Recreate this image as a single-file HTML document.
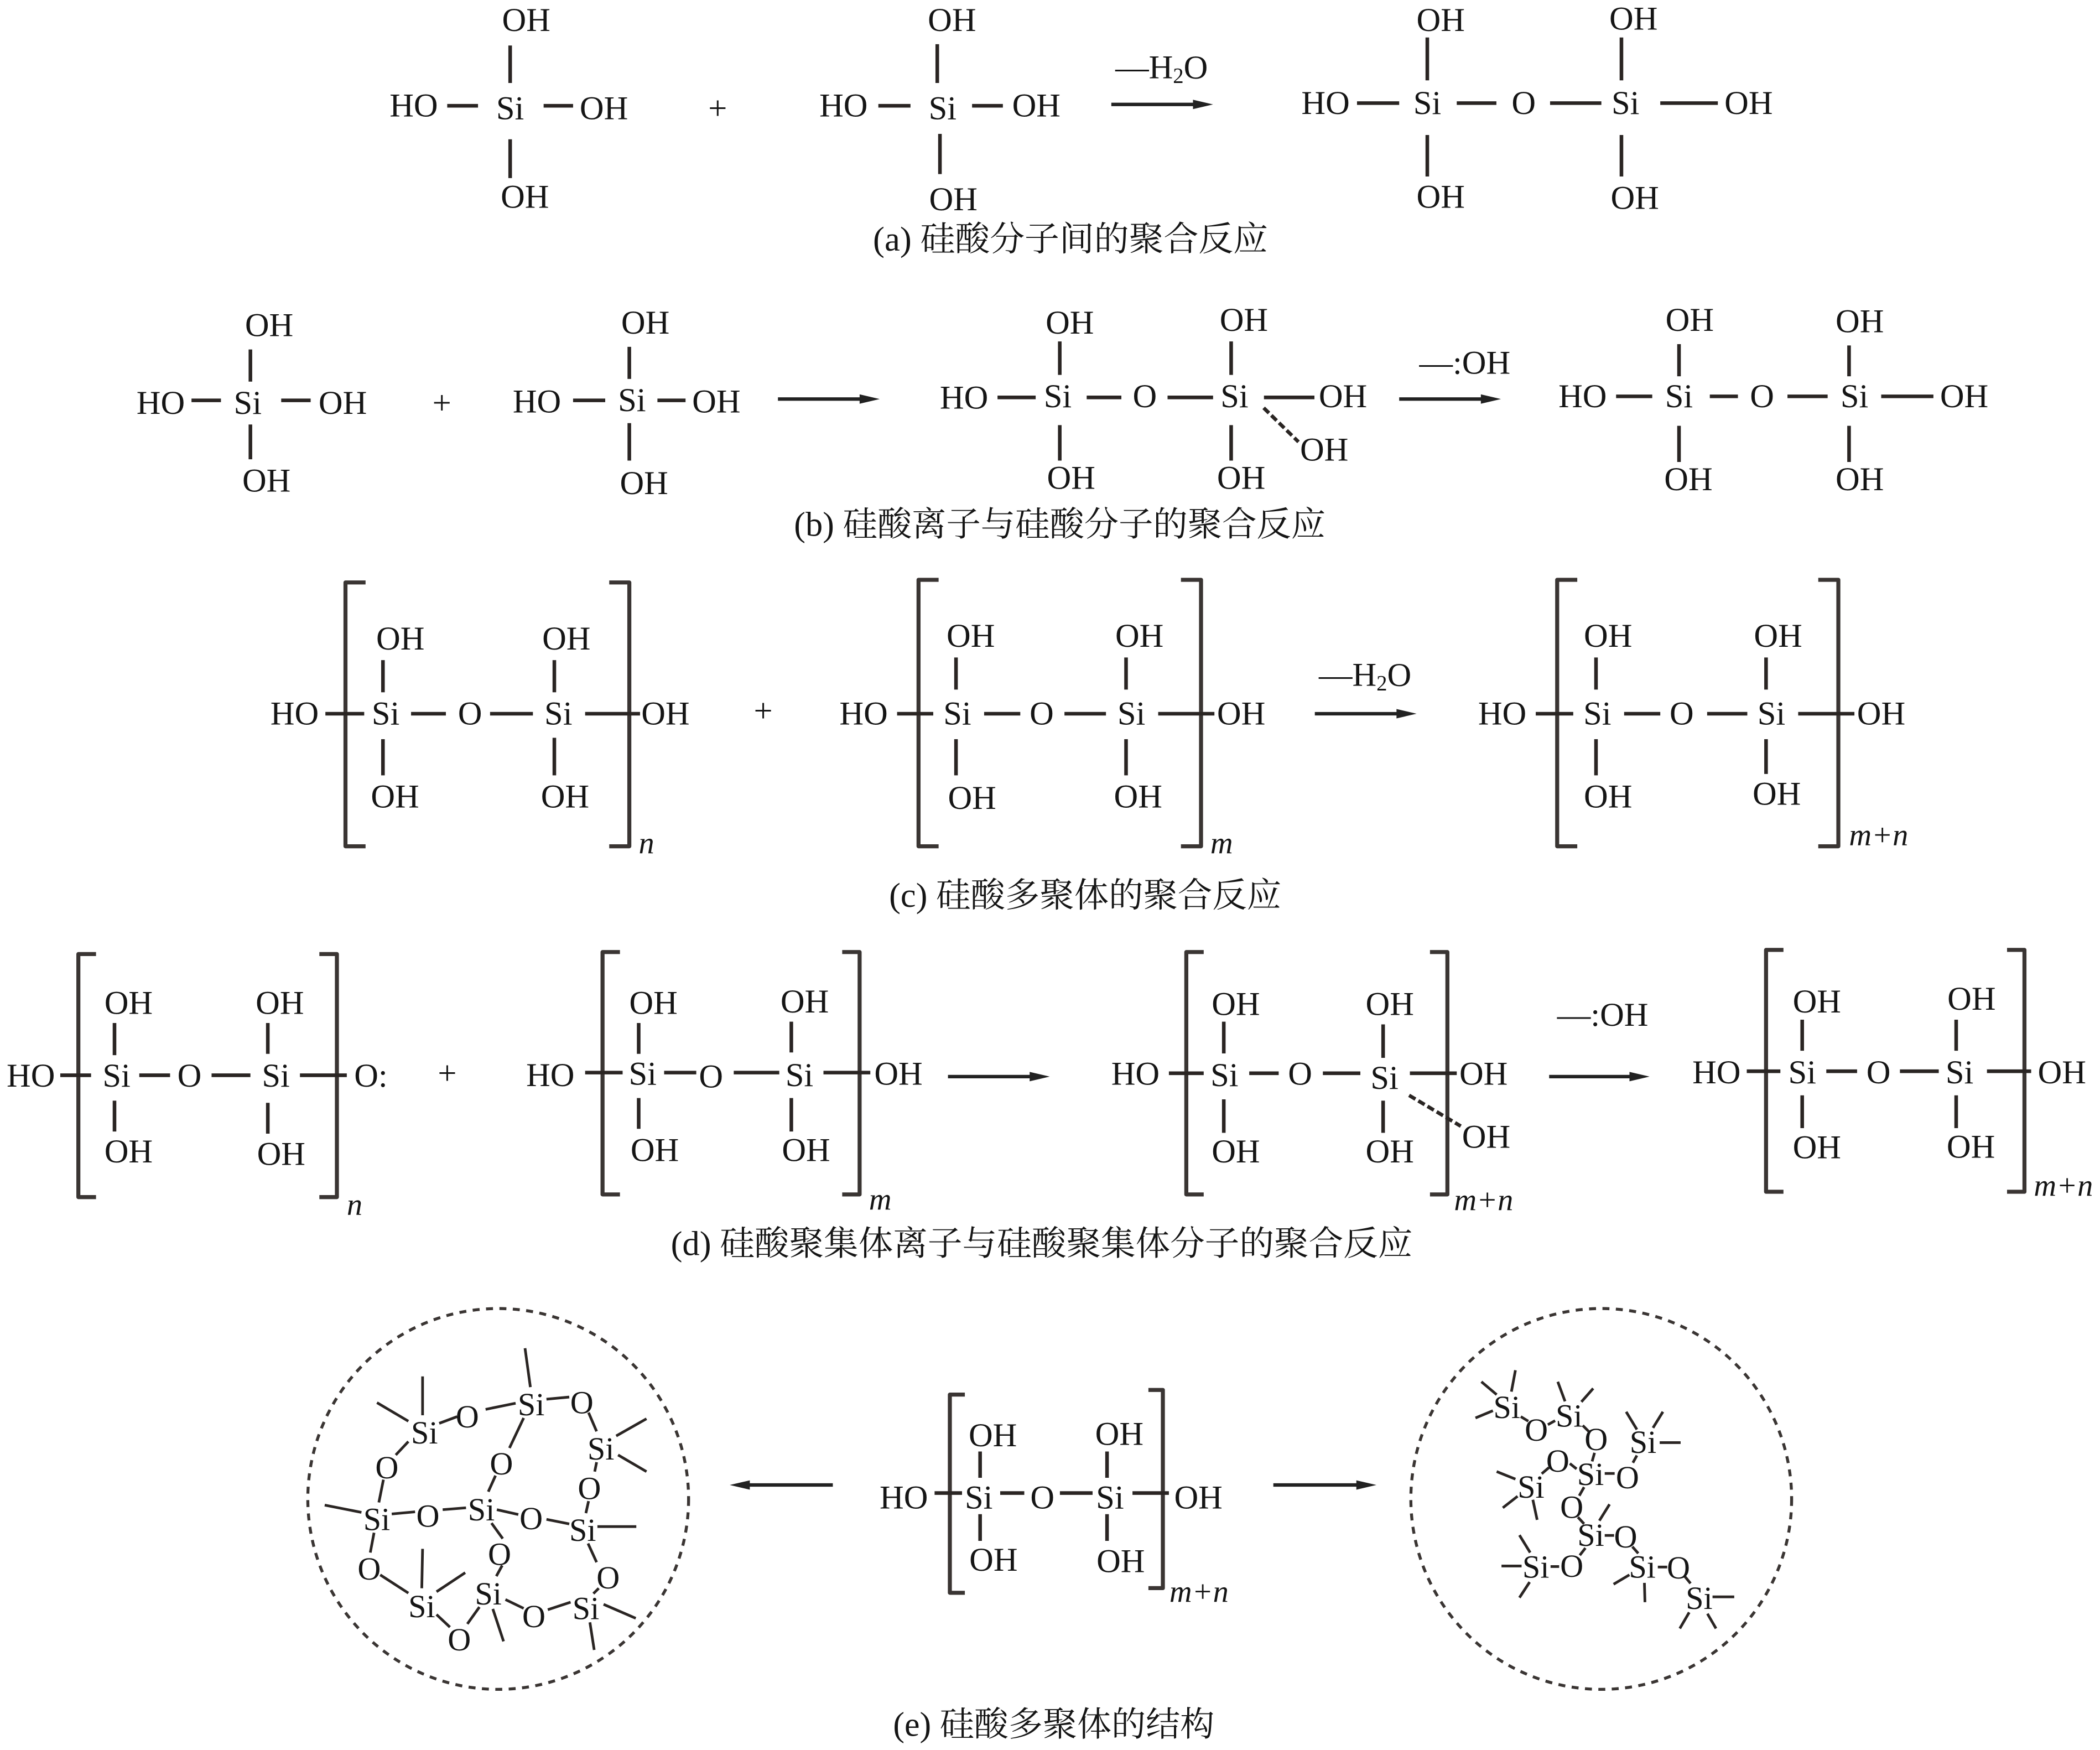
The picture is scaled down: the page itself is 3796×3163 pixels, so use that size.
<!DOCTYPE html>
<html><head><meta charset="utf-8"><style>
html,body{margin:0;padding:0;background:#fff}
svg{display:block}
text{font-family:"Liberation Serif","Noto Serif CJK SC",serif;font-size:25px;fill:#151515;text-anchor:middle;dominant-baseline:central}
.c{font-size:25.7px;text-anchor:start}
.s{text-anchor:start}
.i{font-style:italic;text-anchor:start;font-size:23.3px}
.b{stroke:#2a2523;stroke-width:2.7;fill:none}
.br{stroke:#3a3533;stroke-width:3;fill:none;stroke-linejoin:round}
.d{stroke:#2a2523;stroke-width:2.7;fill:none;stroke-dasharray:5.500 2.500}
.a{stroke:#222;stroke-width:2.6;fill:none}
.z text{font-size:120px}
.z .b{stroke-width:10}
.circ{fill:none;stroke:#3a3533;stroke-width:11;stroke-dasharray:26 24}
</style></head><body>
<svg xmlns="http://www.w3.org/2000/svg" width="3796" height="3163" viewBox="0 0 1568.4 1306.9">
<rect width="1568.4" height="1306.9" fill="#fff"/>

<!-- Row a -->
<path class="b" d="M381 34V62M334 79H357M406 79H428M381 104V133M700 33V62M656 79H680M726 79H749M702 100V130M1013.500 77H1045M1088 77H1117.600M1157.700 77H1196M1240 77H1283M1066 28V60M1066 100.800V131.800M1211 28V60M1211 100.800V131.800"/>
<text x="393" y="15">OH</text><text x="309" y="79">HO</text><text x="381" y="81">Si</text><text x="451" y="81">OH</text><text x="392" y="147">OH</text>
<text x="536" y="81">+</text>
<text x="711" y="15">OH</text><text x="630" y="79">HO</text><text x="704" y="81">Si</text><text x="774" y="79">OH</text><text x="712" y="149">OH</text>
<text class="s" x="833" y="50.500">—H<tspan font-size="16" dy="6">2</tspan><tspan dy="-6">O</tspan></text>
<path class="a" d="M830 78H894"/><polygon points="891,74.500 906,78 891,81.500" fill="#222"/>
<text x="990" y="77">HO</text><text x="1066" y="77">Si</text><text x="1138" y="77">O</text><text x="1214" y="77">Si</text><text x="1306" y="77">OH</text>
<text x="1076" y="15">OH</text><text x="1220" y="14">OH</text><text x="1076" y="147">OH</text><text x="1221" y="148">OH</text>
<text class="c" x="652" y="179" textLength="295" lengthAdjust="spacingAndGlyphs">(a) 硅酸分子间的聚合反应</text>

<!-- Row b -->
<path class="b" d="M187 261V285M143 299H165M210 299H232M187 317V343M470 259V283M428 299H452M491 299H512M470 316V344M745 296.800H773.500M811.600 296.800H837.500M872 296.800H906M944 296.800H981.700M791.500 255V280M791.500 317.500V344M919.500 255V280M919.500 317.500V344M1207 296H1234M1277 296H1298M1335 296H1365M1405 296H1444M1254 257V281M1254 318V345M1381 258V281M1381 318V345"/>
<path class="d" d="M943.800 304.600L969.800 330"/>
<text x="201" y="243">OH</text><text x="120" y="301">HO</text><text x="185" y="301">Si</text><text x="256" y="301">OH</text><text x="199" y="359">OH</text>
<text x="330" y="301">+</text>
<text x="482" y="241">OH</text><text x="401" y="300">HO</text><text x="472" y="299">Si</text><text x="535" y="300">OH</text><text x="481" y="361">OH</text>
<path class="a" d="M581 298H645"/><polygon points="642,294.500 657,298 642,301.500" fill="#222"/>
<text x="720" y="297">HO</text><text x="790" y="296">Si</text><text x="855" y="296">O</text><text x="922" y="296">Si</text><text x="1003" y="296">OH</text>
<text x="799" y="241">OH</text><text x="800" y="357">OH</text><text x="929" y="239">OH</text><text x="927" y="357">OH</text><text x="989" y="336">OH</text>
<text class="s" x="1060" y="271">—:OH</text>
<path class="a" d="M1045 298H1109"/><polygon points="1106,294.500 1121,298 1106,301.500" fill="#222"/>
<text x="1182" y="296">HO</text><text x="1254" y="296">Si</text><text x="1316" y="296">O</text><text x="1385" y="296">Si</text><text x="1467" y="296">OH</text>
<text x="1262" y="239">OH</text><text x="1261" y="358">OH</text><text x="1389" y="240">OH</text><text x="1389" y="358">OH</text>
<text class="c" x="593" y="392" textLength="397" lengthAdjust="spacingAndGlyphs">(b) 硅酸离子与硅酸分子的聚合反应</text>

<!-- Row c -->
<path class="br" d="M273 435H258V632H273M455 435H470V632H455M701 433H686V632H701M882 433H897V632H882M1178 433H1163V632H1178M1358 433H1373V632H1358"/>
<path class="b" d="M243 533H272M307 533H333M366 533H398M437 533H478M286 493V517M286 552V579M414 493V517M414 551V579M670 533H697M735 533H762M795 533H826M865 533H907M714 491V515M714 552V579M841 491V515M841 552V579M1147 533H1175M1213 533H1240M1275 533H1305M1343 533H1385M1192 491V515M1192 552V579M1319 491V515M1319 552V578"/>
<text x="220" y="533">HO</text><text x="288" y="533">Si</text><text x="351" y="533">O</text><text x="417" y="533">Si</text><text x="497" y="533">OH</text>
<text x="299" y="477">OH</text><text x="295" y="595">OH</text><text x="423" y="477">OH</text><text x="422" y="595">OH</text><text class="i" x="477" y="630">n</text>
<text x="570" y="531">+</text>
<text x="645" y="533">HO</text><text x="715" y="533">Si</text><text x="778" y="533">O</text><text x="845" y="533">Si</text><text x="927" y="533">OH</text>
<text x="725" y="475">OH</text><text x="726" y="596">OH</text><text x="851" y="475">OH</text><text x="850" y="595">OH</text><text class="i" x="904" y="630">m</text>
<text class="s" x="985" y="504">—H<tspan font-size="16" dy="6">2</tspan><tspan dy="-6">O</tspan></text>
<path class="a" d="M982 533H1046"/><polygon points="1043,529.500 1058,533 1043,536.500" fill="#222"/>
<text x="1122" y="533">HO</text><text x="1193" y="533">Si</text><text x="1256" y="533">O</text><text x="1323" y="533">Si</text><text x="1405" y="533">OH</text>
<text x="1201" y="475">OH</text><text x="1201" y="595">OH</text><text x="1328" y="475">OH</text><text x="1327" y="593">OH</text><text class="i" x="1381" y="624">m+n</text>
<text class="c" x="664" y="669" textLength="293" lengthAdjust="spacingAndGlyphs">(c) 硅酸多聚体的聚合反应</text>

<!-- Row d -->
<path class="br" d="M71.700 712.500H58.500V894H71.700M238.500 712.500H251.600V894H238.500M463 711H450V892H463M629 711H642V892H629M899 711H886V892H899M1068 711H1081V892H1068M1332 709.400H1319V890H1332M1499 709.400H1512V890H1499"/>
<path class="b" d="M45 803H68M104 803H127M158 803H187M224 803H259M85.500 764V788M85.500 822V845M200 764V787M200 823.600V846.600M437 801H465M496 801H520M548 801H582M615 801H650M477 764V787M477 820V843M591 763V786M591 820V845M873 801.500H899M933 801.500H955M988 801.500H1016M1053 801.500H1088M914 763V786.700M914 821V846M1033 765V790M1033 822V846M1304.600 800H1329.700M1364 800H1387M1419 800H1448M1484 800H1517M1346 761.500V784.700M1346 818V842.500M1461 761.500V784.700M1461 818V842.500"/>
<path class="d" d="M1052.400 818L1091 841"/>
<text x="23" y="803.500">HO</text><text x="87" y="803.500">Si</text><text x="141.500" y="803.500">O</text><text x="206" y="803.500">Si</text><text x="277" y="803.500">O:</text>
<text x="96" y="749">OH</text><text x="96" y="860">OH</text><text x="209" y="749">OH</text><text x="210" y="862">OH</text><text class="i" x="259" y="900">n</text>
<text x="334" y="801.500">+</text>
<text x="411" y="803">HO</text><text x="480" y="802">Si</text><text x="531" y="804">O</text><text x="597" y="803">Si</text><text x="671" y="802">OH</text>
<text x="488" y="749">OH</text><text x="489" y="859">OH</text><text x="601" y="748">OH</text><text x="602" y="859">OH</text><text class="i" x="649" y="896">m</text>
<path class="a" d="M708 804H772"/><polygon points="769,800.500 784,804 769,807.500" fill="#222"/>
<text x="848" y="802">HO</text><text x="914.500" y="803">Si</text><text x="971" y="802">O</text><text x="1034" y="805">Si</text><text x="1108" y="802">OH</text>
<text x="923" y="750">OH</text><text x="923" y="860">OH</text><text x="1038" y="750">OH</text><text x="1038" y="860">OH</text><text x="1110" y="849">OH</text><text class="i" x="1086" y="896.500">m+n</text>
<text class="s" x="1163" y="758">—:OH</text>
<path class="a" d="M1157 804H1220"/><polygon points="1217,800.500 1232,804 1217,807.500" fill="#222"/>
<text x="1282" y="801">HO</text><text x="1346" y="801">Si</text><text x="1403" y="801">O</text><text x="1463.500" y="801">Si</text><text x="1540" y="801">OH</text>
<text x="1357" y="748">OH</text><text x="1357" y="857">OH</text><text x="1472.500" y="746">OH</text><text x="1472" y="856.500">OH</text><text class="i" x="1519" y="885.600">m+n</text>
<text class="c" x="501" y="929" textLength="554" lengthAdjust="spacingAndGlyphs">(d) 硅酸聚集体离子与硅酸聚集体分子的聚合反应</text>

<!-- Row e centre -->
<path class="br" d="M720.600 1041.500H709.400V1189.500H720.600M857.700 1038H868.500V1186H857.700"/>
<path class="b" d="M698 1115H718.500M747 1115H765M791.600 1115H816M845.800 1115H873M732 1084V1103.600M732 1130.800V1150.700M826.800 1084V1103.600M826.800 1130.800V1150.700"/>
<text x="675" y="1118.500">HO</text><text x="731" y="1118.500">Si</text><text x="778.500" y="1118.500">O</text><text x="829" y="1118.500">Si</text><text x="895" y="1118.500">OH</text>
<text x="741.500" y="1072">OH</text><text x="742" y="1165">OH</text><text x="836" y="1071">OH</text><text x="837" y="1166">OH</text><text class="i" x="873.400" y="1189">m+n</text>
<path class="a" d="M622 1109H557"/><polygon points="560,1105.500 545,1109 560,1112.500" fill="#222"/>
<path class="a" d="M951 1109H1016"/><polygon points="1013,1105.500 1028,1109 1013,1112.500" fill="#222"/>
<text class="c" x="667" y="1288" textLength="240" lengthAdjust="spacingAndGlyphs">(e) 硅酸多聚体的结构</text>

<!-- Left circle -->
<g class="z" transform="translate(214.85 966.8) scale(0.20028)">
<circle class="circ" cx="785" cy="762" r="710"/>
<path class="b" d="M503 305L503 450M333 403L450 472M565 480L632 455M738 428L850 405M885 200L905 345M965 390L1050 382M1122 440L1152 510M1225 527L1338 463M1232 598L1338 660M1152 625L1145 660M880 460L827 572M775 675L748 735M450 548L403 598M357 690L340 775M138 785L275 812M388 818L475 810M578 802L665 795M780 802L860 820M965 838L1050 855M1155 865L1300 865M1122 770L1112 815M760 852L802 910M322 888L308 962M345 1045L450 1113M503 948L500 1095M555 1108L662 1037M800 1010L778 1050M555 1193L605 1240M670 1228L715 1165M765 1172L805 1293M812 1137L880 1170M970 1175L1055 1147M1120 928L1152 998M1160 1095L1140 1115M1178 1155L1298 1207M1127 1222L1143 1325"/>
<text x="510" y="515">Si</text><text x="670" y="455">O</text><text x="908" y="410">Si</text><text x="1097" y="403">O</text><text x="1168" y="575">Si</text><text x="370" y="645">O</text><text x="797" y="630">O</text><text x="1125" y="722">O</text><text x="332" y="838">Si</text><text x="523" y="825">O</text><text x="722" y="802">Si</text><text x="908" y="835">O</text><text x="1100" y="878">Si</text><text x="790" y="968">O</text><text x="304" y="1023">O</text><text x="1195" y="1055">O</text><text x="500" y="1163">Si</text><text x="748" y="1115">Si</text><text x="918" y="1200">O</text><text x="1112" y="1170">Si</text><text x="640" y="1287">O</text>
</g>

<!-- Right circle -->
<g class="z" transform="translate(1045.3 966.8) scale(0.20028)">
<circle class="circ" cx="752" cy="762" r="710"/>
<path class="b" d="M432 282L417 362M305 325L362 373M283 460L348 433M452 455L480 472M553 485L580 470M590 325L617 398M722 350L678 400M683 488L705 510M727 590L718 622M845 437L885 503M982 437L945 497M970 552L1048 552M885 600L870 627M765 667L802 667M530 668L557 645M635 630L660 650M688 718L670 750M362 660L432 688M440 752L385 795M497 765L513 840M665 830L688 855M783 782L745 843M765 898L800 898M693 945L672 972M868 940L890 965M447 897L487 962M380 1012L455 1012M563 1014L595 1014M485 1072L447 1130M963 1016L998 1016M857 1045L798 1080M913 1075L915 1147M1063 1050L1085 1077M1167 1127L1248 1127M1080 1185L1045 1245M1148 1190L1180 1245"/>
<text x="400" y="420">Si</text><text x="510" y="505">O</text><text x="632" y="452">Si</text><text x="733" y="540">O</text><text x="908" y="550">Si</text><text x="590" y="620">O</text><text x="712" y="670">Si</text><text x="850" y="682">O</text><text x="490" y="717">Si</text><text x="642" y="792">O</text><text x="713" y="897">Si</text><text x="843" y="903">O</text><text x="508" y="1015">Si</text><text x="642" y="1012">O</text><text x="905" y="1015">Si</text><text x="1040" y="1018">O</text><text x="1117" y="1132">Si</text>
</g>
</svg>
</body></html>
